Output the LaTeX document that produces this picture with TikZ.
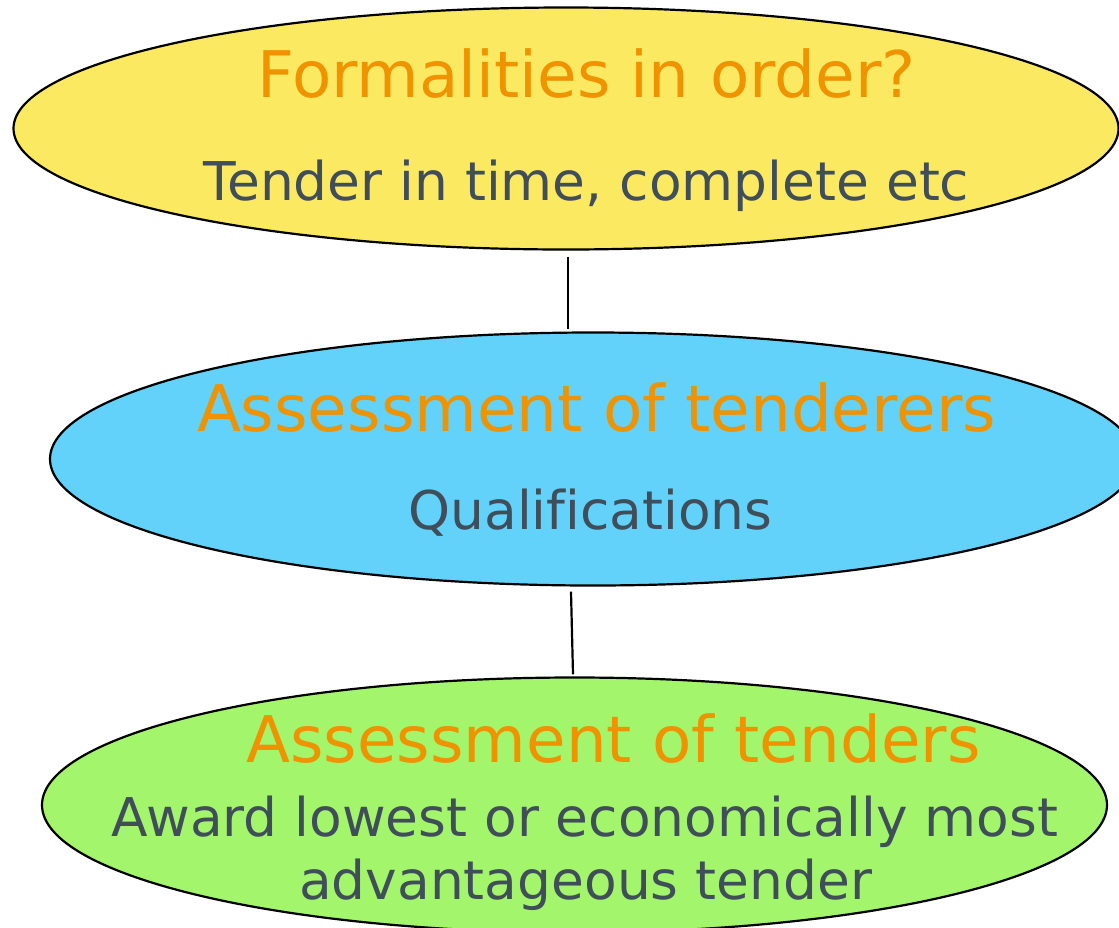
\documentclass[tikz,border=0pt]{standalone}
\usepackage{fontspec}
\setmainfont[Ligatures={NoCommon}]{DejaVu Sans}
\usetikzlibrary{shapes.geometric}
\definecolor{yel}{RGB}{252,233,98}
\definecolor{blu}{RGB}{99,210,250}
\definecolor{grn}{RGB}{163,245,107}
\definecolor{org}{RGB}{240,147,0}
\definecolor{gry}{RGB}{64,78,90}
\tikzset{
  ell/.style={ellipse, draw=black, line width=2.2pt, inner sep=0pt},
  head/.style={anchor=base, text=org, font=\fontsize{64.3}{77}\selectfont, inner sep=0pt},
  sub/.style={anchor=base, text=gry, font=\fontsize{53.4}{63}\selectfont, inner sep=0pt, align=center},
  link/.style={draw=black, line width=2.2pt}
}
\begin{document}
\begin{tikzpicture}[x=1pt,y=-1pt]
\useasboundingbox (0,0) rectangle (1119,927);
\clip (0,0) rectangle (1119,927);
\node[ell, fill=yel, minimum width=1105pt, minimum height=242pt] (f) at (566,128.5) {};
\node[ell, fill=blu, minimum width=1086pt, minimum height=253pt] (b) at (593,459) {};
\node[ell, fill=grn, minimum width=1065pt, minimum height=255pt] (g) at (574.5,805) {};
\node[head] (t1) at (586.5,97) {Formalities in order?};
\node[sub] (s1) at (586.5,200) {Tender in time, complete etc};
\node[head] (t2) at (596.5,431) {Assessment of tenderers};
\node[sub] (s2) at (590.5,529) {Qualifications};
\node[head] (t3) at (613.5,762) {Assessment of tenders};
\node[sub] (s3) at (585,836) {Award lowest or economically most};
\node[sub] (s4) at (585.5,899) {advantageous tender};
\draw[link] ([xshift=2pt,yshift=-6pt]f.south) -- ([xshift=-25pt,yshift=2pt]b.north);
\draw[link] ([xshift=-22pt,yshift=-5pt]b.south) -- ([xshift=-1.5pt,yshift=2pt]g.north);
\end{tikzpicture}
\end{document}
